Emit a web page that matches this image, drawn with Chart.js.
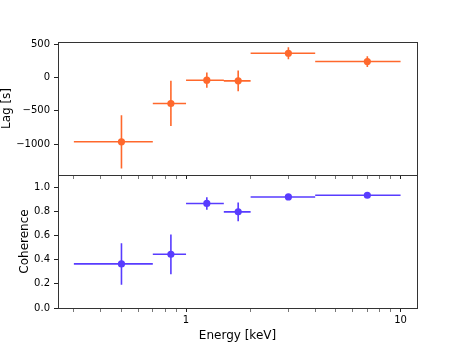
<!DOCTYPE html>
<html><head><meta charset="utf-8">
<script src="https://cdn.jsdelivr.net/npm/chart.js@4/dist/chart.umd.min.js"></script>
<style>
html,body{margin:0;padding:0;background:#fff;}
#wrap{position:relative;width:463px;height:347px;background:#fff;}
canvas{position:absolute;left:0;top:0;}
</style></head><body>
<div id="wrap">
<canvas id="bot" width="463" height="347"></canvas>
<canvas id="top" width="463" height="179"></canvas>
</div>
<script>
// ---- data ----
const binLo  = [0.3, 0.7, 1.0, 1.5, 2.0, 4.0];
const binHi  = [0.7, 1.0, 1.5, 2.0, 4.0, 10.0];
const energy = [0.5, 0.85, 1.25, 1.75, 3.0, 7.0];
const lag    = [-966, -390, -40, -50, 365, 240];
const lagErr = [400, 340, 115, 155, 90, 80];
const coh    = [0.366, 0.446, 0.868, 0.798, 0.922, 0.936];
const cohErr = [0.172, 0.165, 0.052, 0.078, 0.015, 0.01];
const xTicks = [0.3,0.4,0.5,0.6,0.7,0.8,0.9,1,2,3,4,5,6,7,8,9,10];
const xMajor = [1, 10];
const xMajorLabels = ['1', '10'];
const lagTicks = [500, 0, -500, -1000];
const lagTickLabels = ['500', '0', '\u2212500', '\u22121000'];
const cohTicks = [0, 0.2, 0.4, 0.6, 0.8, 1.0];
const cohTickLabels = ['0.0', '0.2', '0.4', '0.6', '0.8', '1.0'];
const xLimits = [0.253, 11.93];
const lagLimits = [-1465, 534];
const cohLimits = [0, 1.104];

const ORANGE = 'rgb(255,104,44)';
const PURPLE = 'rgb(88,60,255)';
const TICK_FONT = {family: 'DejaVu Sans', size: 10};
const TITLE_FONT = {family: 'DejaVu Sans', size: 12};

function hBars(vals) {
  const d = [];
  for (let i = 0; i < vals.length; i++) {
    d.push({x: binLo[i], y: vals[i]}, {x: binHi[i], y: vals[i]}, {x: energy[i], y: null});
  }
  return d;
}
function vBars(vals, errs) {
  const d = [];
  for (let i = 0; i < vals.length; i++) {
    d.push({x: energy[i], y: vals[i] - errs[i]}, {x: energy[i], y: vals[i] + errs[i]}, {x: energy[i], y: null});
  }
  return d;
}
function pts(vals) { return vals.map((v, i) => ({x: energy[i], y: v})); }

const frame = {
  id: 'frame',
  afterDatasetsDraw(chart) {
    const {ctx, chartArea: a} = chart;
    ctx.save();
    ctx.strokeStyle = '#333';
    ctx.lineWidth = 1;
    ctx.strokeRect(Math.round(a.left) + 0.5, Math.round(a.top) + 0.5,
                   Math.round(a.right - a.left), Math.round(a.bottom - a.top));
    ctx.restore();
  }
};

function panel(canvas, cfg) {
  const color = cfg.color;
  const lineDs = (data) => ({type: 'line', data, borderColor: color, borderWidth: 1.6,
    pointRadius: 0, spanGaps: false, order: 1, tension: 0});
  return new Chart(canvas, {
    type: 'scatter',
    data: {datasets: [
      lineDs(hBars(cfg.vals)),
      lineDs(vBars(cfg.vals, cfg.errs)),
      {type: 'scatter', data: pts(cfg.vals), backgroundColor: color, borderWidth: 0,
       pointRadius: 3.6, order: 0}
    ]},
    options: {
      responsive: false, animation: false, events: [],
      devicePixelRatio: 1,
      layout: {padding: cfg.padding},
      plugins: {legend: {display: false}, tooltip: {enabled: false}},
      scales: {
        x: {
          type: 'logarithmic', min: xLimits[0], max: xLimits[1],
          afterBuildTicks: s => { s.ticks = xTicks.map(v => ({value: v, major: xMajor.includes(v)})); },
          afterFit: s => { s.height = cfg.xHeight; s.paddingLeft = 0; s.paddingRight = 0; },
          border: {display: false},
          grid: {drawOnChartArea: false, drawTicks: true, tickLength: 4,
                 tickColor: c => (xMajor.includes(c.tick && c.tick.value) ? '#222' : '#555'),
                 tickWidth: c => (xMajor.includes(c.tick && c.tick.value) ? 1 : 0.8)},
          ticks: {color: '#000', font: TICK_FONT, padding: 2, maxRotation: 0, autoSkip: false,
                  callback: (v) => { const k = xMajor.indexOf(v); return (cfg.xLabels && k >= 0) ? xMajorLabels[k] : ''; }},
          title: {display: !!cfg.xTitle, text: cfg.xTitle || '', color: '#000', font: TITLE_FONT,
                  padding: {top: 0, bottom: 4}}
        },
        y: {
          type: 'linear', min: cfg.lim[0], max: cfg.lim[1],
          afterBuildTicks: s => { s.ticks = cfg.ticks.map(v => ({value: v})); },
          afterFit: s => { s.width = cfg.yWidth; s.paddingTop = 0; s.paddingBottom = 0; },
          border: {display: false},
          grid: {drawOnChartArea: false, drawTicks: true, tickLength: 4, tickColor: '#222', tickWidth: 1},
          ticks: {color: '#000', font: TICK_FONT, padding: 4,
                  callback: (v) => { const k = cfg.ticks.indexOf(v); return k >= 0 ? cfg.tickLabels[k] : ''; }},
          title: {display: true, text: cfg.yTitle, color: '#000', font: TITLE_FONT, padding: 0}
        }
      }
    },
    plugins: [frame]
  });
}

panel(document.getElementById('top'), {
  color: ORANGE, vals: lag, errs: lagErr, lim: lagLimits,
  ticks: lagTicks, tickLabels: lagTickLabels, yTitle: 'Lag [s]',
  padding: {top: 42, left: 0, right: 46, bottom: 0}, yWidth: 58, xHeight: 4, xLabels: false
});
panel(document.getElementById('bot'), {
  color: PURPLE, vals: coh, errs: cohErr, lim: cohLimits,
  ticks: cohTicks, tickLabels: cohTickLabels, yTitle: 'Coherence',
  padding: {top: 175, left: 18, right: 46, bottom: 0}, yWidth: 40, xHeight: 39,
  xLabels: true, xTitle: 'Energy [keV]'
});
</script>
</body></html>
